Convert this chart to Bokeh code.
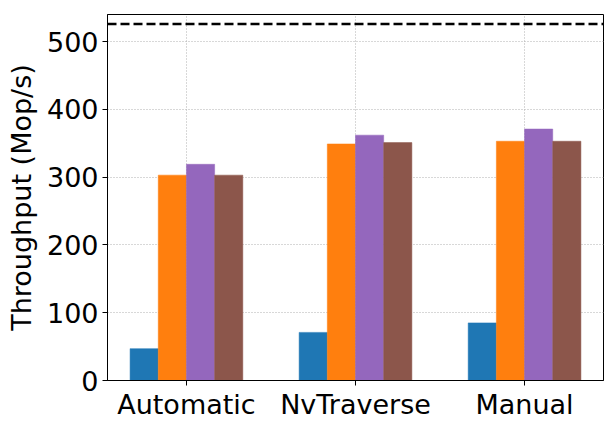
from bokeh.plotting import figure
from bokeh.models import Range1d, FixedTicker, Span, ColumnDataSource
from bokeh.transform import dodge
from bokeh.embed import file_html
from bokeh.resources import INLINE

categories = ["Automatic", "NvTraverse", "Manual"]
series_a = [47, 71, 85]      # blue
series_b = [303, 349, 353]   # orange
series_c = [319, 362, 371]   # purple
series_d = [303, 351, 353]   # brown
reference_line = 526
y_ticks = [0, 100, 200, 300, 400, 500]

colors = ["#1f77b4", "#ff7f0e", "#9467bd", "#8c564b"]
bar_w = 0.1667

xs = list(range(len(categories)))
src = ColumnDataSource(dict(x=xs, a=series_a, b=series_b, c=series_c, d=series_d))

p = figure(width=608, height=422, output_backend="svg", toolbar_location=None,
           x_range=Range1d(-0.467, 2.467), y_range=Range1d(0, 540),
           min_border_left=107, min_border_right=5, min_border_top=14, min_border_bottom=40)

for i, (col, c) in enumerate(zip(["a", "b", "c", "d"], colors)):
    off = (i - 1.5) * bar_w
    p.vbar(x=dodge("x", off, range=p.x_range), top=col, width=bar_w, source=src,
           fill_color=c, line_color=c, line_width=0.5)

p.add_layout(Span(location=reference_line, dimension="width", line_color="black",
                  line_width=2.5, line_dash="9 4"))

font = "DejaVu Sans"
p.xaxis.ticker = FixedTicker(ticks=xs)
p.xaxis.major_label_overrides = {i: c for i, c in enumerate(categories)}
p.yaxis.ticker = FixedTicker(ticks=y_ticks)
p.yaxis.axis_label = "Throughput (Mop/s)"

for ax in (p.xaxis, p.yaxis):
    ax.major_label_text_font = font
    ax.major_label_text_font_size = "27px"
    ax.major_label_text_color = "black"
    ax.axis_label_text_font = font
    ax.axis_label_text_font_size = "27px"
    ax.axis_label_text_font_style = "normal"
    ax.axis_label_text_color = "black"
    ax.minor_tick_line_color = None
    ax.major_tick_in = 0
    ax.major_tick_out = 5
    ax.major_tick_line_color = "black"
    ax.axis_line_color = "black"
    ax.major_label_standoff = 4
p.yaxis.axis_label_standoff = 7
p.xaxis.major_label_standoff = 3

p.xgrid.ticker = FixedTicker(ticks=xs)
for g in (p.xgrid, p.ygrid):
    g.grid_line_color = "#b0b0b0"
    g.grid_line_dash = "1 2"
    g.grid_line_width = 1

p.outline_line_color = "black"
p.outline_line_width = 1
p.outline_line_alpha = 1
p.background_fill_color = "white"
p.border_fill_color = "white"

open("out.html", "w").write(file_html(p, INLINE))
